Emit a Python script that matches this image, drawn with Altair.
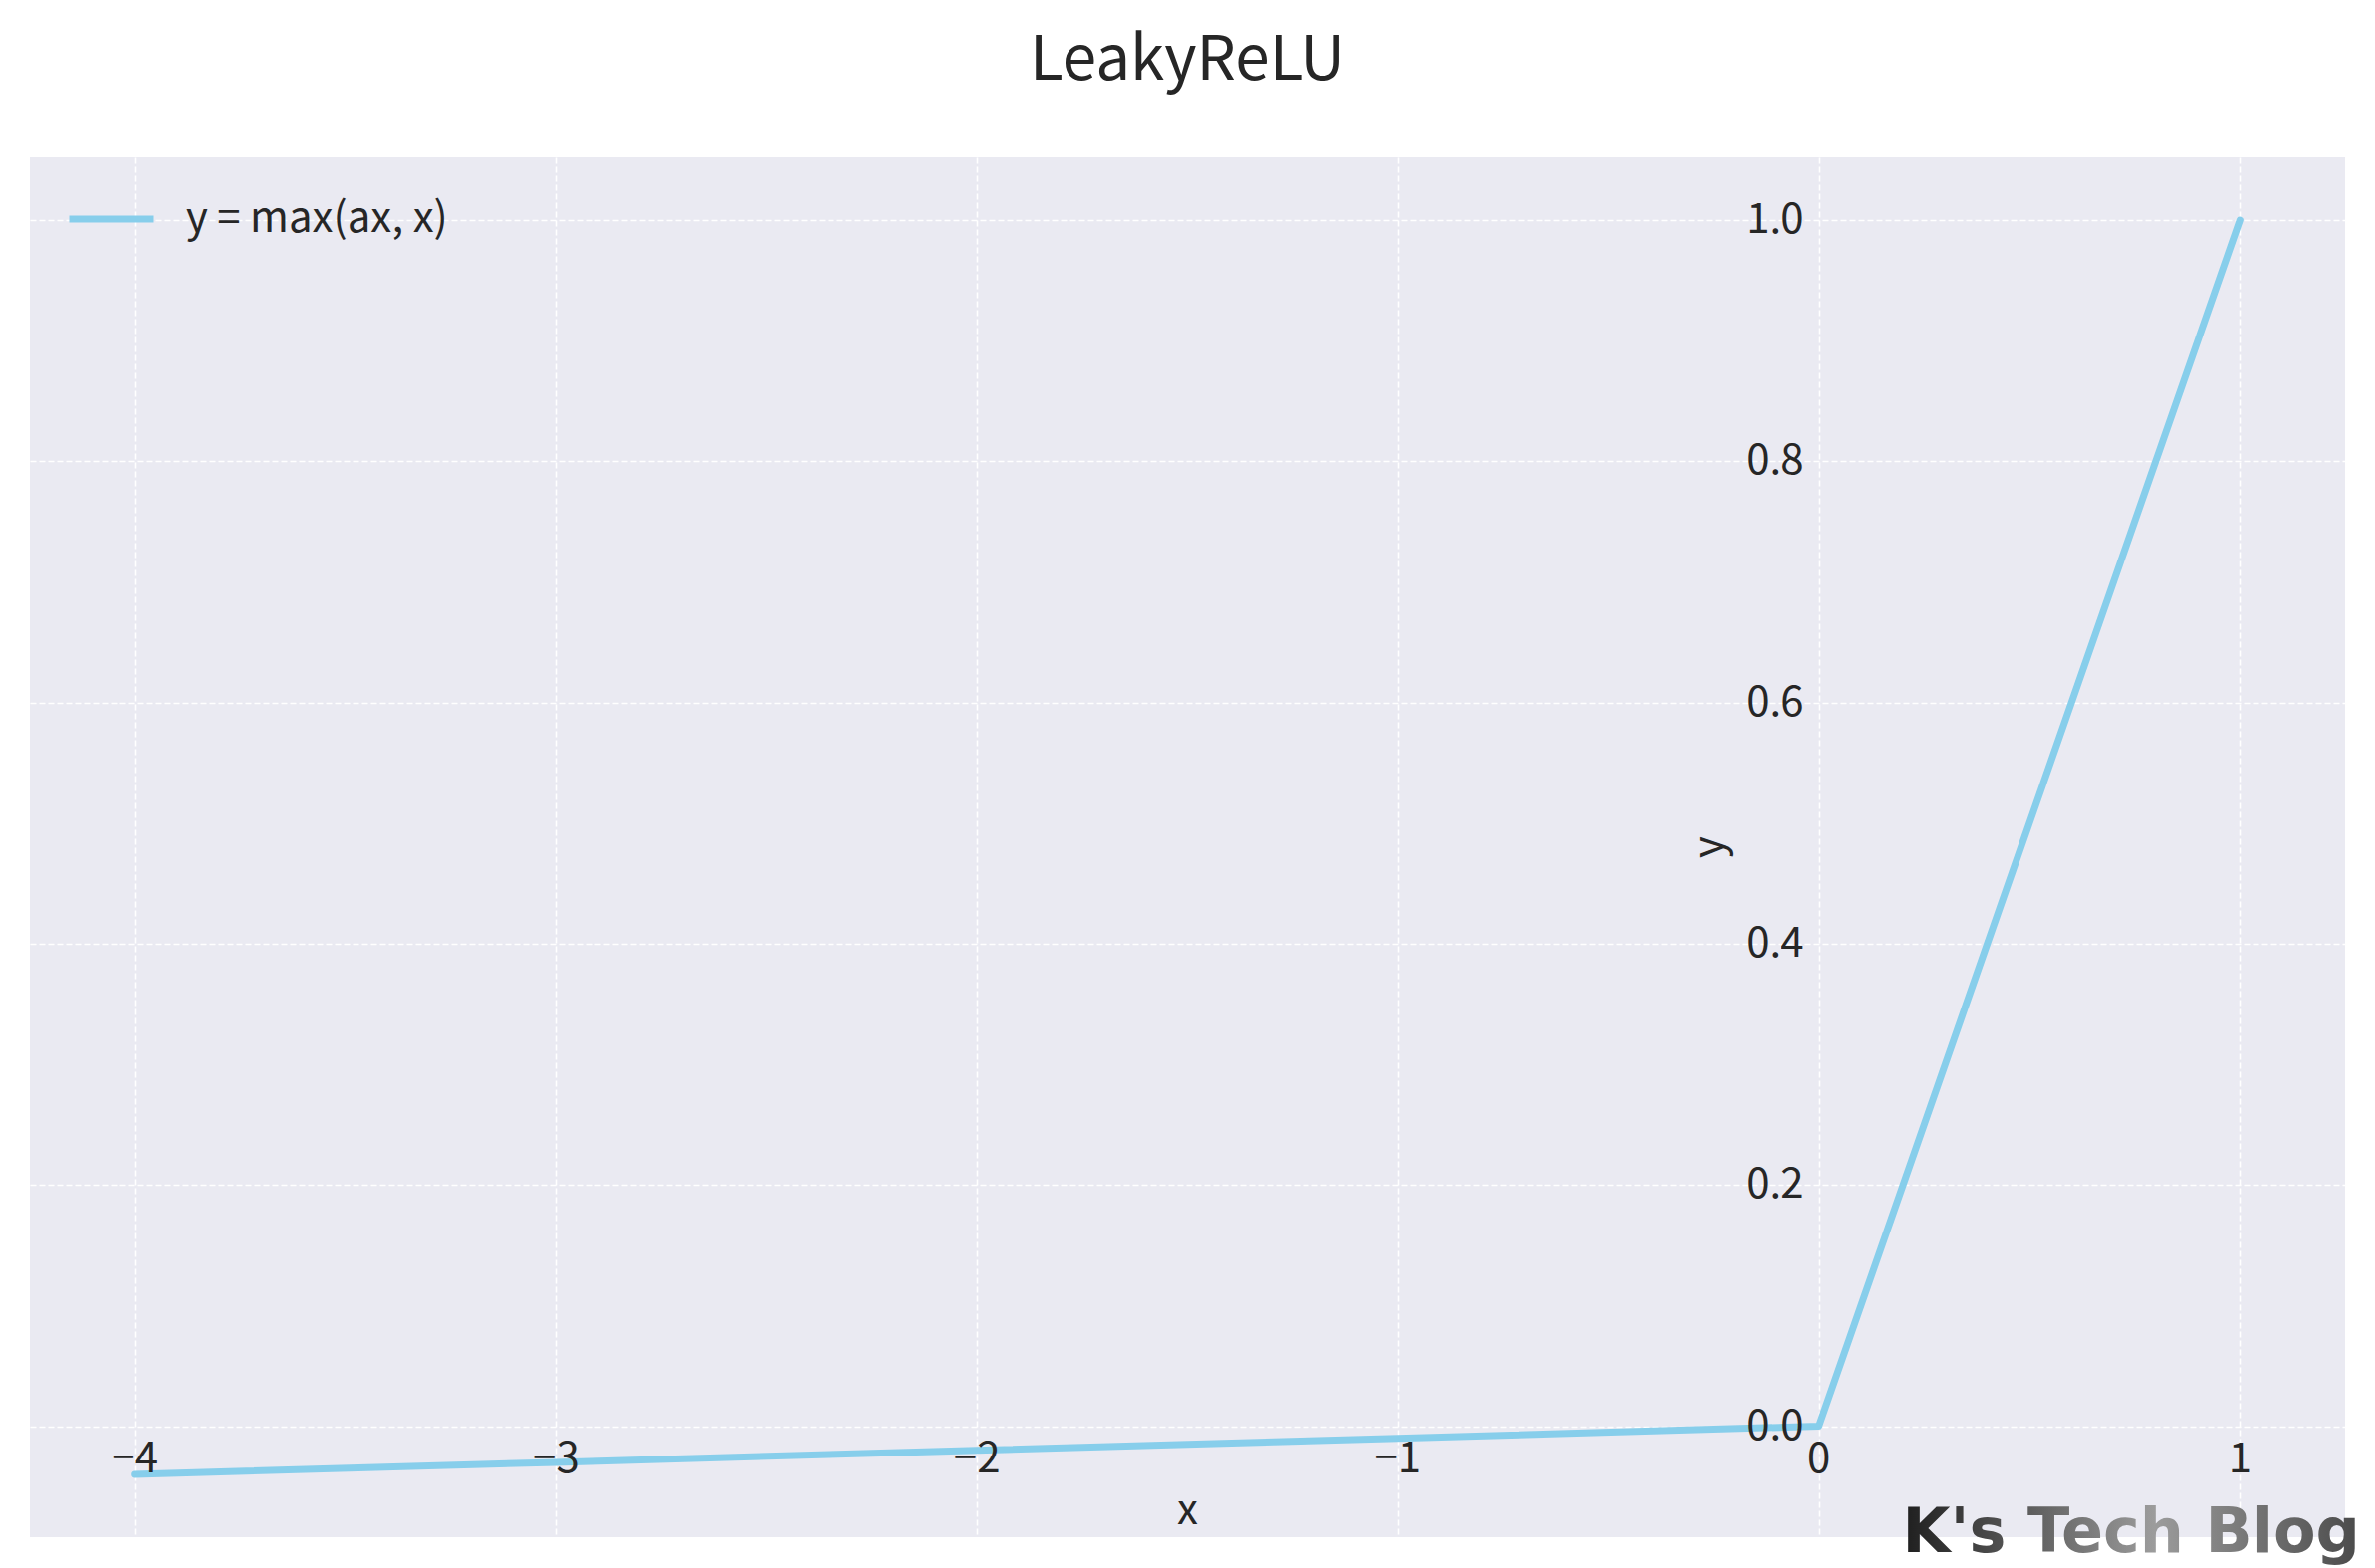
import altair as alt
import pandas as pd

# ---- data ----
x_vals = [-4, -3, -2, -1, 0, 1]
y_vals = [-0.04, -0.03, -0.02, -0.01, 0.0, 1.0]
series_name = "y = max(ax, x)"
x_ticks = [-4, -3, -2, -1, 0, 1]
x_tick_labels = ["−4", "−3", "−2", "−1", "0", "1"]
y_ticks = [0.0, 0.2, 0.4, 0.6, 0.8, 1.0]
y_tick_labels = ["0.0", "0.2", "0.4", "0.6", "0.8", "1.0"]
x_domain = [-4.25, 1.25]
y_domain = [-0.092, 1.052]
title_text = "LeakyReLU"
x_title = "x"
y_title = "y"
watermark = "K's Tech Blog"

FONT = "Noto Sans CJK SC"
TXT = "#262626"
W, H = 2325, 1386

line_df = pd.DataFrame({"x": x_vals, "y": y_vals, "series": [series_name] * len(x_vals)})
xt_df = pd.DataFrame({"x": x_ticks, "y": [0.0] * len(x_ticks), "label": x_tick_labels})
yt_df = pd.DataFrame({"x": [0.0] * len(y_ticks), "y": y_ticks, "label": y_tick_labels})
xl_df = pd.DataFrame({"x": [(x_domain[0] + x_domain[1]) / 2], "y": [0.0], "label": [x_title]})
yl_df = pd.DataFrame({"x": [0.0], "y": [(y_domain[0] + y_domain[1]) / 2], "label": [y_title]})
wm_df = pd.DataFrame({"label": [watermark]})

xs = alt.Scale(domain=x_domain, nice=False, zero=False)
ys = alt.Scale(domain=y_domain, nice=False, zero=False)
grid_kw = dict(grid=True, labels=False, ticks=False, domain=False, title=None,
               gridColor="white", gridDash=[6, 3], gridWidth=1.6)
X = alt.X("x:Q", scale=xs, axis=alt.Axis(values=x_ticks, **grid_kw))
Y = alt.Y("y:Q", scale=ys, axis=alt.Axis(values=y_ticks, **grid_kw))

line = alt.Chart(line_df).mark_line(strokeWidth=7, strokeCap="round", strokeJoin="round").encode(
    x=X, y=Y,
    color=alt.Color("series:N", scale=alt.Scale(range=["#87CEEB"]),
                    legend=alt.Legend(title=None, orient="none", legendX=36, legendY=16,
                                      symbolType="stroke", symbolSize=7225, symbolStrokeWidth=7,
                                      labelFontSize=42, labelFont=FONT, labelColor=TXT,
                                      labelOffset=29, labelLimit=0, padding=0, offset=0)),
)

xt = alt.Chart(xt_df).mark_text(font=FONT, fontSize=42, color=TXT, baseline="top", align="center", dy=13).encode(
    x=X, y=Y, text="label:N")
yt = alt.Chart(yt_df).mark_text(font=FONT, fontSize=42, color=TXT, baseline="middle", align="right", dx=-15).encode(
    x=X, y=Y, text="label:N")
xl = alt.Chart(xl_df).mark_text(font=FONT, fontSize=42, color=TXT, baseline="middle", align="center", dy=85).encode(
    x=X, y=Y, text="label:N")
yl = alt.Chart(yl_df).mark_text(font=FONT, fontSize=42, color=TXT, baseline="middle", align="center",
                                angle=270, dy=-110).encode(x=X, y=Y, text="label:N")

wm_color = alt.LinearGradient(
    gradient="linear", x1=0, y1=0, x2=1, y2=0,
    stops=[alt.GradientStop(color="#1e1e1e", offset=0),
           alt.GradientStop(color="#9c9c9c", offset=0.55),
           alt.GradientStop(color="#4a4a4a", offset=1)])
wm = alt.Chart(wm_df).mark_text(font="DejaVu Sans", fontWeight="bold", fontSize=62, align="right",
                                baseline="alphabetic", color=wm_color).encode(
    x=alt.value(W + 15), y=alt.value(H + 15), text="label:N")

chart = alt.layer(line, xt, yt, xl, yl, wm).properties(
    width=W, height=H,
    title=alt.TitleParams(title_text, font=FONT, fontSize=62, color=TXT, fontWeight="normal",
                          anchor="middle", offset=65),
    autosize=alt.AutoSizeParams(type="none"),
    padding={"left": 22, "top": 150, "right": 22, "bottom": 31},
    background="white",
).configure_view(fill="#EAEAF2", stroke=None)

chart.save("out.html", embed_options={"renderer": "svg", "actions": False})
